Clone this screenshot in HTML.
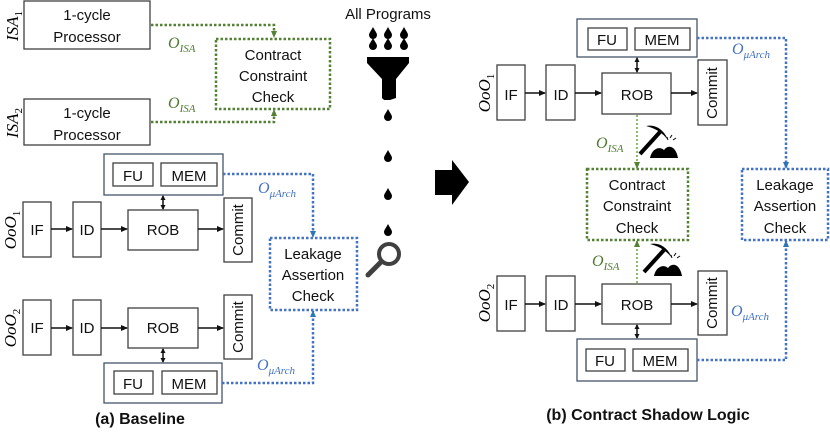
<!DOCTYPE html>
<html><head><meta charset="utf-8"><style>
html,body{margin:0;padding:0;background:#fff;width:830px;height:433px;overflow:hidden}
svg{display:block}
text{font-family:"Liberation Sans",sans-serif}
.b{fill:#fff;stroke:#404040;stroke-width:1.3}
.o{fill:#fff;stroke:#44546a;stroke-width:1.3}
.t{font-size:15px;fill:#111;text-anchor:middle}
.g{fill:none;stroke:#548235;stroke-width:2.5;stroke-dasharray:2.5 2}
.gl{fill:none;stroke:#70ad47;stroke-width:1.6;stroke-dasharray:2 2}
.bl{fill:none;stroke:#4472c4;stroke-width:2.5;stroke-dasharray:2.5 2}
.a{stroke:#111;stroke-width:1.5}
.m{font-family:"Liberation Serif",serif;font-style:italic}
.gt{fill:#4e7a2e;font-size:16px}
.bt{fill:#4472c4;font-size:16px}
</style></head><body>
<svg width="830" height="433" viewBox="0 0 830 433" xmlns="http://www.w3.org/2000/svg">
<defs>
<marker id="ah" markerUnits="userSpaceOnUse" markerWidth="7" markerHeight="6" refX="6" refY="3" orient="auto"><path d="M0,0 L7,3 L0,6z" fill="#111"/></marker>
<marker id="ahs" markerUnits="userSpaceOnUse" markerWidth="5" markerHeight="5" refX="4" refY="2.5" orient="auto-start-reverse"><path d="M0,0 L5,2.5 L0,5z" fill="#111"/></marker>
<marker id="ag" markerUnits="userSpaceOnUse" markerWidth="7" markerHeight="6" refX="6" refY="3" orient="auto"><path d="M0,0 L7,3 L0,6z" fill="#548235"/></marker>
<marker id="ab" markerUnits="userSpaceOnUse" markerWidth="7" markerHeight="6" refX="6" refY="3" orient="auto"><path d="M0,0 L7,3 L0,6z" fill="#2e75b6"/></marker>
<g id="drop"><path d="M0,-6 C2,-2 4,0 4,2 A4,4 0 0 1 -4,2 C-4,0 -2,-2 0,-6z" fill="#000"/></g>
<g id="pick"><path d="M0,-14 C10,-16 18,-10 22,0 C16,-8 8,-12 0,-14z" fill="#000"/><line x1="14" y1="-8" x2="-6" y2="14" stroke="#000" stroke-width="4"/><path d="M4,18 C6,8 14,6 18,10 C22,4 30,6 32,18z" fill="#000"/><path d="M24,-2 l2,-3 M27,0 l3,-2 M22,0 l-1,-3" stroke="#000" stroke-width="1"/></g>
</defs>

<!-- ===== LEFT ===== -->
<text class="m" font-size="17" transform="translate(18,26) rotate(-90)" text-anchor="middle">ISA<tspan font-size="11" dy="4" font-style="normal">1</tspan></text>
<rect class="b" x="24" y="1" width="126" height="48"/>
<text class="t" x="87" y="20">1-cycle</text><text class="t" x="87" y="42">Processor</text>
<text class="m" font-size="17" transform="translate(18,123) rotate(-90)" text-anchor="middle">ISA<tspan font-size="11" dy="4" font-style="normal">2</tspan></text>
<rect class="b" x="24" y="99" width="126" height="46"/>
<text class="t" x="87" y="118">1-cycle</text><text class="t" x="87" y="140">Processor</text>

<polyline class="g" points="151,25 274,25 274,37" marker-end="url(#ag)"/>
<polyline class="g" points="151,122 274,122 274,110" marker-end="url(#ag)"/>
<rect class="g" x="216" y="39" width="114" height="70"/>
<text class="t" x="273" y="60">Contract</text><text class="t" x="273" y="81">Constraint</text><text class="t" x="273" y="102">Check</text>
<text class="m gt" x="168" y="48">O<tspan font-size="11" dy="4">ISA</tspan></text>
<text class="m gt" x="168" y="108">O<tspan font-size="11" dy="4">ISA</tspan></text>

<!-- OoO1 left -->
<rect class="o" x="104" y="154" width="119" height="41"/>
<rect class="b" x="113" y="163" width="40" height="23"/><text class="t" x="133" y="181">FU</text>
<rect class="b" x="161" y="163" width="56" height="23"/><text class="t" x="189" y="181">MEM</text>
<line class="a" x1="163" y1="196" x2="163" y2="209" marker-start="url(#ahs)" marker-end="url(#ahs)"/>
<text class="m" font-size="17" transform="translate(16,230) rotate(-90)" text-anchor="middle">OoO<tspan font-size="11" dy="4" font-style="normal">1</tspan></text>
<rect class="b" x="23" y="202" width="28" height="55"/><text class="t" x="37" y="235">IF</text>
<rect class="b" x="73" y="202" width="28" height="55"/><text class="t" x="87" y="235">ID</text>
<rect class="b" x="128" y="210" width="70" height="40"/><text class="t" x="163" y="235">ROB</text>
<rect class="b" x="224" y="198" width="28" height="64"/><text class="t" transform="translate(243,230) rotate(-90)">Commit</text>
<line class="a" x1="51" y1="229" x2="72" y2="229" marker-end="url(#ah)"/>
<line class="a" x1="101" y1="229" x2="127" y2="229" marker-end="url(#ah)"/>
<line class="a" x1="198" y1="229" x2="223" y2="229" marker-end="url(#ah)"/>

<polyline class="bl" points="223,174 313,174 313,237" marker-end="url(#ab)"/>
<text class="m bt" x="258" y="193">O<tspan font-size="11" dy="4">μArch</tspan></text>
<rect class="bl" x="270" y="238" width="87" height="72"/>
<text class="t" x="313" y="259">Leakage</text><text class="t" x="313" y="280">Assertion</text><text class="t" x="313" y="301">Check</text>

<!-- OoO2 left -->
<text class="m" font-size="17" transform="translate(16,328) rotate(-90)" text-anchor="middle">OoO<tspan font-size="11" dy="4" font-style="normal">2</tspan></text>
<rect class="b" x="23" y="300" width="28" height="55"/><text class="t" x="37" y="333">IF</text>
<rect class="b" x="73" y="300" width="28" height="55"/><text class="t" x="87" y="333">ID</text>
<rect class="b" x="128" y="308" width="70" height="40"/><text class="t" x="163" y="333">ROB</text>
<rect class="b" x="224" y="295" width="28" height="64"/><text class="t" transform="translate(243,327) rotate(-90)">Commit</text>
<line class="a" x1="51" y1="328" x2="72" y2="328" marker-end="url(#ah)"/>
<line class="a" x1="101" y1="328" x2="127" y2="328" marker-end="url(#ah)"/>
<line class="a" x1="198" y1="328" x2="223" y2="328" marker-end="url(#ah)"/>
<line class="a" x1="163" y1="349" x2="163" y2="362" marker-start="url(#ahs)" marker-end="url(#ahs)"/>
<rect class="o" x="104" y="363" width="118" height="40"/>
<rect class="b" x="114" y="371" width="39" height="23"/><text class="t" x="133" y="389">FU</text>
<rect class="b" x="162" y="371" width="55" height="23"/><text class="t" x="189" y="389">MEM</text>
<polyline class="bl" points="222,383 313,383 313,311" marker-end="url(#ab)"/>
<text class="m bt" x="257" y="370">O<tspan font-size="11" dy="4">μArch</tspan></text>

<text x="140" y="424" font-size="16" font-weight="bold" text-anchor="middle" fill="#111">(a) Baseline</text>

<!-- funnel column -->
<text x="388" y="19" font-size="15" text-anchor="middle" fill="#111">All Programs</text>
<use href="#drop" x="373" y="33"/><use href="#drop" x="388" y="33"/><use href="#drop" x="404" y="33"/>
<use href="#drop" x="373" y="44"/><use href="#drop" x="388" y="44"/><use href="#drop" x="404" y="44"/>
<path d="M367,57 H409 V63 L396,79 V98 L390,100 H384 L382,98 V79 L367,63z" fill="#000"/>
<use href="#drop" x="388" y="115"/><use href="#drop" x="388" y="156"/><use href="#drop" x="388" y="194"/><use href="#drop" x="388" y="230"/>
<circle cx="389" cy="254" r="10" fill="none" stroke="#404040" stroke-width="4"/>
<line x1="381" y1="262" x2="368" y2="275" stroke="#404040" stroke-width="5" stroke-linecap="round"/>

<!-- big arrow -->
<path d="M435,170 H452 V160 L469,182 L452,205 V195 H435z" fill="#000"/>

<!-- ===== RIGHT ===== -->
<rect class="o" x="577" y="19" width="120" height="38"/>
<rect class="b" x="588" y="28" width="39" height="22"/><text class="t" x="607" y="45">FU</text>
<rect class="b" x="635" y="28" width="55" height="22"/><text class="t" x="662" y="45">MEM</text>
<line class="a" x1="637" y1="58" x2="637" y2="72" marker-start="url(#ahs)" marker-end="url(#ahs)"/>
<text class="m" font-size="17" transform="translate(490,93) rotate(-90)" text-anchor="middle">OoO<tspan font-size="11" dy="4" font-style="normal">1</tspan></text>
<rect class="b" x="497" y="65" width="28" height="55"/><text class="t" x="511" y="100">IF</text>
<rect class="b" x="546" y="65" width="29" height="55"/><text class="t" x="561" y="100">ID</text>
<rect class="b" x="602" y="73" width="69" height="41"/><text class="t" x="637" y="100">ROB</text>
<rect class="b" x="698" y="60" width="29" height="65"/><text class="t" transform="translate(717,93) rotate(-90)">Commit</text>
<line class="a" x1="525" y1="93" x2="545" y2="93" marker-end="url(#ah)"/>
<line class="a" x1="575" y1="93" x2="601" y2="93" marker-end="url(#ah)"/>
<line class="a" x1="671" y1="93" x2="697" y2="93" marker-end="url(#ah)"/>

<polyline class="bl" points="697,38 786,38 786,168" marker-end="url(#ab)"/>
<text class="m bt" x="732" y="54">O<tspan font-size="11" dy="4">μArch</tspan></text>
<rect class="bl" x="742" y="169" width="86" height="71"/>
<text class="t" x="785" y="190">Leakage</text><text class="t" x="785" y="211">Assertion</text><text class="t" x="785" y="233">Check</text>

<line class="gl" x1="637" y1="115" x2="637" y2="168" marker-end="url(#ag)"/>
<rect class="g" x="587" y="169" width="101" height="71"/>
<text class="t" x="637" y="190">Contract</text><text class="t" x="637" y="211">Constraint</text><text class="t" x="637" y="233">Check</text>
<line class="gl" x1="637" y1="283" x2="637" y2="241" marker-end="url(#ag)"/>
<text class="m gt" x="596" y="148">O<tspan font-size="11" dy="4">ISA</tspan></text>
<text class="m gt" x="592" y="266">O<tspan font-size="11" dy="4">ISA</tspan></text>
<use href="#pick" x="646" y="140"/>
<use href="#pick" x="650" y="258"/>

<text class="m" font-size="17" transform="translate(490,303) rotate(-90)" text-anchor="middle">OoO<tspan font-size="11" dy="4" font-style="normal">2</tspan></text>
<rect class="b" x="497" y="276" width="28" height="55"/><text class="t" x="511" y="310">IF</text>
<rect class="b" x="546" y="276" width="29" height="55"/><text class="t" x="561" y="310">ID</text>
<rect class="b" x="602" y="284" width="69" height="40"/><text class="t" x="637" y="310">ROB</text>
<rect class="b" x="698" y="271" width="29" height="64"/><text class="t" transform="translate(717,303) rotate(-90)">Commit</text>
<line class="a" x1="525" y1="304" x2="545" y2="304" marker-end="url(#ah)"/>
<line class="a" x1="575" y1="304" x2="601" y2="304" marker-end="url(#ah)"/>
<line class="a" x1="671" y1="304" x2="697" y2="304" marker-end="url(#ah)"/>
<line class="a" x1="637" y1="325" x2="637" y2="338" marker-start="url(#ahs)" marker-end="url(#ahs)"/>
<rect class="o" x="577" y="339" width="120" height="42"/>
<rect class="b" x="586" y="349" width="39" height="22"/><text class="t" x="605" y="366">FU</text>
<rect class="b" x="633" y="349" width="55" height="22"/><text class="t" x="660" y="366">MEM</text>
<polyline class="bl" points="697,360 786,360 786,241" marker-end="url(#ab)"/>
<text class="m bt" x="731" y="316">O<tspan font-size="11" dy="4">μArch</tspan></text>

<text x="648" y="420" font-size="16" font-weight="bold" text-anchor="middle" fill="#111">(b) Contract Shadow Logic</text>
</svg>
</body></html>
